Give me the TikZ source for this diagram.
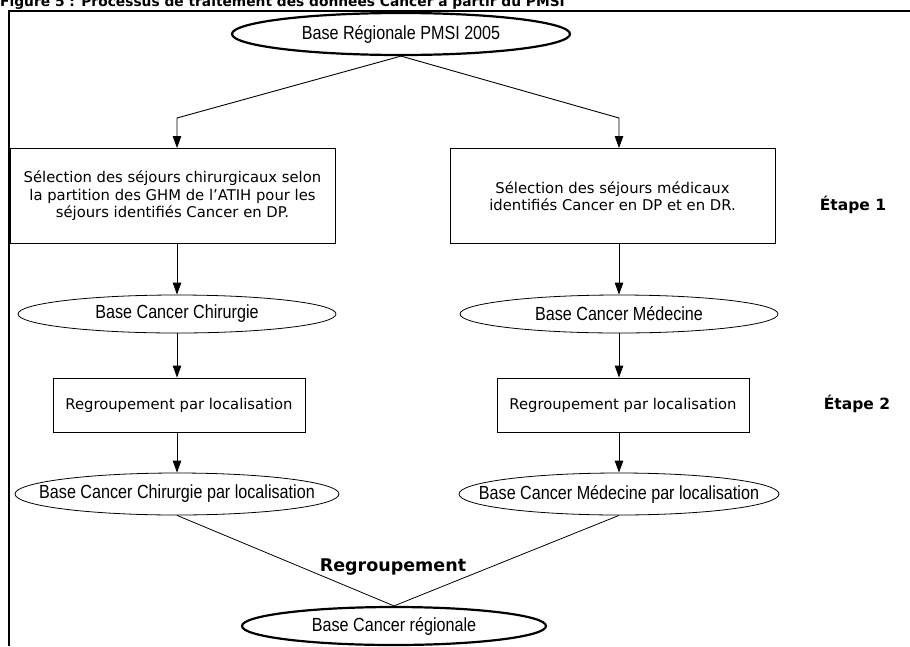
\documentclass[tikz,border=0pt]{standalone}
\usepackage{fontspec}
\setmainfont{DejaVu Sans}
\newfontfamily\etroite[FakeStretch=0.85]{Liberation Sans}
\usetikzlibrary{positioning,arrows.meta,shapes.geometric}

\tikzset{
  boite/.style={draw, line width=0.9pt, minimum width=325pt, minimum height=95pt, align=center, inner sep=2pt, font=\fontsize{14.8}{17.6}\selectfont},
  boitereg/.style={boite, minimum width=252pt, minimum height=54pt},
  base/.style={ellipse, draw, line width=0.8pt, inner xsep=-40pt, inner ysep=-8pt, font=\etroite\fontsize{19}{22}\selectfont},
  basegras/.style={base, line width=2.2pt},
  fleche/.style={-{Triangle[width=8.5pt,length=12pt]}, line width=0.9pt},
  lien/.style={line width=0.8pt},
  etape/.style={font=\bfseries\fontsize{15.5}{18}\selectfont}
}

\begin{document}
\begin{tikzpicture}[x=1pt, y=-1pt]
\useasboundingbox (0,0) rectangle (910,646);
% cadre et titre
\draw[line width=1.4pt] (9,646) -- (9,11) -- (910,11);
\node[anchor=base west, inner sep=0pt, font=\bfseries\fontsize{13.8}{15}\selectfont] (titre) at (0,6) {Figure 5 : Processus de traitement des données Cancer à partir du PMSI};
% base de depart
\node[basegras, minimum width=338pt, minimum height=42pt] (pmsi) at (401,34) {Base Régionale PMSI 2005};
% etape 1
\node[boite] (selchir) at (172.5,196) {Sélection des séjours chirurgicaux selon\\la partition des GHM de l’ATIH pour les\\séjours identifiés Cancer en DP.};
\node[boite] (selmed) at (612.5,196) {Sélection des séjours médicaux\\identifiés Cancer en DP et en DR.};
\node[etape] (etape1) at (853,205) {Étape 1};
\node[base, minimum width=318pt, minimum height=38pt] (chir) at (177,314) {Base Cancer Chirurgie};
\node[base, minimum width=318pt, minimum height=38pt] (med) at (619,314) {Base Cancer Médecine};
% etape 2
\node[boitereg] (regchir) at (179,405) {Regroupement par localisation};
\node[boitereg] (regmed) at (623,405) {Regroupement par localisation};
\node[etape] (etape2) at (857,404) {Étape 2};
\node[base, minimum width=324pt, minimum height=42pt] (chirloc) at (177,494) {Base Cancer Chirurgie par localisation};
\node[base, minimum width=320pt, minimum height=42pt] (medloc) at (619,494) {Base Cancer Médecine par localisation};
% base finale
\node[basegras, minimum width=304pt, minimum height=38pt] (regionale) at (394,626) {Base Cancer régionale};
\node[font=\bfseries\fontsize{17.5}{20}\selectfont] (regroup) at (393,567) {Regroupement};

\coordinate (coudeg) at (177,118);
\coordinate (couded) at (619,118);
\draw[fleche] (pmsi.south) -- (coudeg) -- (coudeg |- selchir.north);
\draw[fleche] (pmsi.south) -- (couded) -- (couded |- selmed.north);
\draw[fleche] (chir.north |- selchir.south) -- (chir.north);
\draw[fleche] (med.north |- selmed.south) -- (med.north);
\draw[fleche] (chir.south) -- (chir.south |- regchir.north);
\draw[fleche] (med.south) -- (med.south |- regmed.north);
\draw[fleche] (chirloc.north |- regchir.south) -- (chirloc.north);
\draw[fleche] (medloc.north |- regmed.south) -- (medloc.north);
\draw[lien] (chirloc.south) -- (regionale.north);
\draw[lien] (medloc.south) -- (regionale.north);
\end{tikzpicture}
\end{document}
